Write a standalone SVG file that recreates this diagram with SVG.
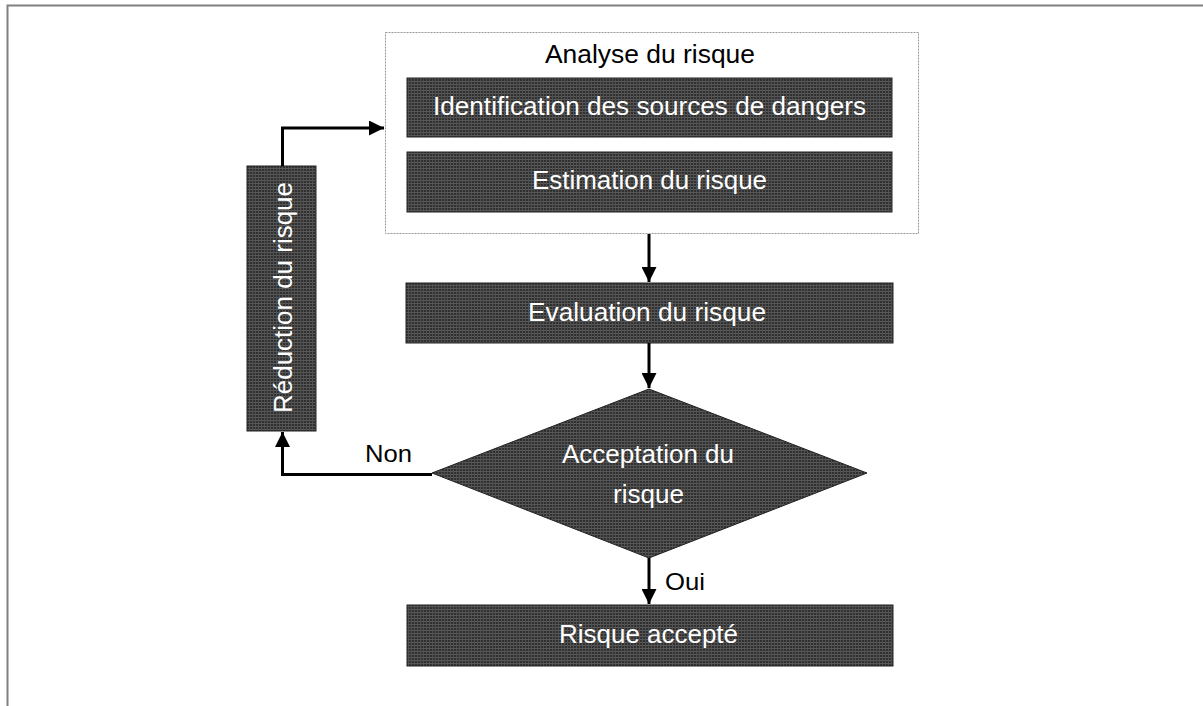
<svg xmlns="http://www.w3.org/2000/svg" width="1203" height="706" viewBox="0 0 1203 706">
  <defs>
    <pattern id="ht" width="3" height="3" patternUnits="userSpaceOnUse">
      <rect width="3" height="3" fill="#303030"/>
      <rect width="3" height="1" fill="#5a5a5a"/>
      <rect width="1" height="3" fill="#505050"/>
    </pattern>
    <marker id="ah" markerWidth="5" markerHeight="5" refX="5" refY="2.5" orient="auto" markerUnits="strokeWidth">
      <path d="M0,0 L5,2.5 L0,5 Z" fill="#000"/>
    </marker>
  </defs>
  <style>
    .box { fill: url(#ht); stroke: #222; stroke-width: 1; }
    .wt { font-family: "Liberation Sans", Arial, sans-serif; font-size: 26px; fill: #fff; text-anchor: middle; }
    .bt { font-family: "Liberation Sans", Arial, sans-serif; font-size: 26px; fill: #000; text-anchor: middle; }
    .lbl { font-family: "Liberation Sans", Arial, sans-serif; font-size: 24px; fill: #000; }
    .conn { fill: none; stroke: #000; stroke-width: 3; }
  </style>
  <rect width="1203" height="706" fill="#fff"/>
  <path d="M7.5,706 L7.5,5.5 L1203,5.5" fill="none" stroke="#808080" stroke-width="2"/>

  <g id="analyse">
    <rect x="385.5" y="32.5" width="533" height="201" fill="none" stroke="#999" stroke-width="1" stroke-dasharray="2,1"/>
    <text class="bt" x="650" y="63" textLength="210" lengthAdjust="spacingAndGlyphs">Analyse du risque</text>
  </g>
  <g id="identification">
    <rect class="box" x="407" y="78" width="485" height="59"/>
    <text class="wt" x="649.5" y="115" textLength="433" lengthAdjust="spacingAndGlyphs">Identification des sources de dangers</text>
  </g>
  <g id="estimation">
    <rect class="box" x="407" y="152" width="485" height="60"/>
    <text class="wt" x="649.5" y="189" textLength="235" lengthAdjust="spacingAndGlyphs">Estimation du risque</text>
  </g>
  <g id="evaluation">
    <rect class="box" x="406" y="283" width="487" height="60"/>
    <text class="wt" x="647" y="321" textLength="238" lengthAdjust="spacingAndGlyphs">Evaluation du risque</text>
  </g>
  <g id="acceptation">
    <polygon class="box" points="649,389 867,473 649,558 432,473"/>
    <text class="wt" x="648" y="463" textLength="172" lengthAdjust="spacingAndGlyphs">Acceptation du</text>
    <text class="wt" x="648.5" y="503" textLength="71" lengthAdjust="spacingAndGlyphs">risque</text>
  </g>
  <g id="accepte">
    <rect class="box" x="407" y="605" width="486" height="61"/>
    <text class="wt" x="648.5" y="643" textLength="179" lengthAdjust="spacingAndGlyphs">Risque accepté</text>
  </g>
  <g id="reduction">
    <rect class="box" x="247" y="166" width="69" height="265"/>
    <text class="wt" transform="translate(292,297.5) rotate(-90)" x="0" y="0" textLength="231" lengthAdjust="spacingAndGlyphs">Réduction du risque</text>
  </g>

  <g id="connectors">
    <path class="conn" d="M649,234 L649,282" marker-end="url(#ah)"/>
    <path class="conn" d="M649,343 L649,388" marker-end="url(#ah)"/>
    <path class="conn" d="M649,558 L649,604" marker-end="url(#ah)"/>
    <path class="conn" d="M432,474.5 L282.5,474.5 L282.5,432" marker-end="url(#ah)"/>
    <path class="conn" d="M282.5,166 L282.5,128 L384,128" marker-end="url(#ah)"/>
    <text class="lbl" x="665" y="590" textLength="40" lengthAdjust="spacingAndGlyphs">Oui</text>
    <text class="lbl" x="365" y="462" textLength="47" lengthAdjust="spacingAndGlyphs">Non</text>
  </g>
</svg>
